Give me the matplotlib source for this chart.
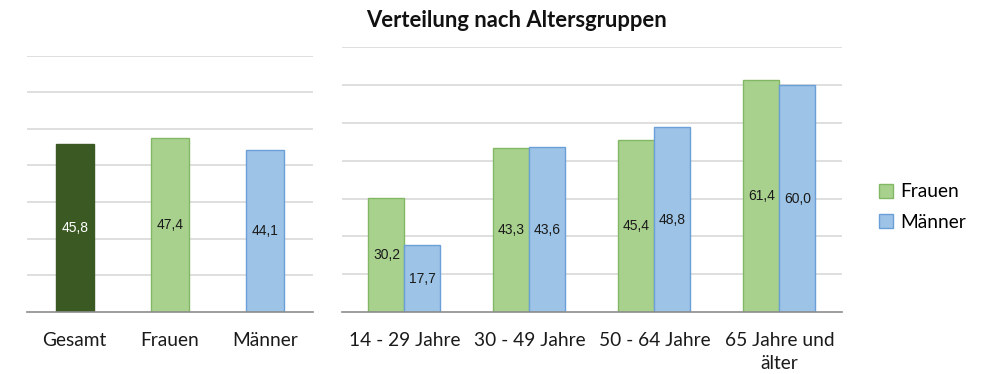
import matplotlib
matplotlib.use('Agg')
import matplotlib.pyplot as plt
import numpy as np

# Werte (Prozent)
gesamt_labels = ['Gesamt', 'Frauen', 'Männer']
gesamt_values = [45.8, 47.4, 44.1]

gruppen = ['14 - 29 Jahre', '30 - 49 Jahre', '50 - 64 Jahre', '65 Jahre und\nälter']
frauen = [30.2, 43.3, 45.4, 61.4]
maenner = [17.7, 43.6, 48.8, 60.0]

title = 'Verteilung nach Altersgruppen'

# Farben
dark_green = '#3b5a23'
light_green = '#a9d18e'
green_edge = '#82b865'
light_blue = '#9dc3e6'
blue_edge = '#6b9fd8'
grid_col = '#d9d9d9'
base_col = '#8c8c8c'

cat_font = 'Lato'
num_font = 'Liberation Sans'
cat_size = 13.8

fig = plt.figure(figsize=(9.85, 3.74), dpi=100)


def style_axis(ax):
    ax.set_ylim(0, 70)
    ax.set_yticks(np.arange(10, 71, 10))
    ax.yaxis.grid(True, color=grid_col, linewidth=1.2)
    ax.set_axisbelow(True)
    for s in ['top', 'right', 'left']:
        ax.spines[s].set_visible(False)
    ax.spines['bottom'].set_color(base_col)
    ax.spines['bottom'].set_linewidth(1.2)
    ax.tick_params(axis='y', left=False, labelleft=False)
    ax.tick_params(axis='x', bottom=False, pad=11)
    for lbl in ax.get_xticklabels():
        lbl.set_fontfamily(cat_font)
        lbl.set_fontsize(cat_size)
        lbl.set_color('#1a1a1a')


# linkes Diagramm: Gesamt / Frauen / Männer
ax1 = fig.add_axes([0.0274, 0.1666, 0.2904, 0.6844])
x1 = np.arange(len(gesamt_labels))
cols1 = [dark_green, light_green, light_blue]
edges1 = [dark_green, green_edge, blue_edge]
bars1 = ax1.bar(x1, gesamt_values, width=0.4, color=cols1, edgecolor=edges1, linewidth=1)
ax1.set_xlim(-0.5, 2.5)
ax1.set_xticks(x1)
ax1.set_xticklabels(gesamt_labels)
style_axis(ax1)
for b, v, tc in zip(bars1, gesamt_values, ['white', '#1a1a1a', '#1a1a1a']):
    ax1.text(b.get_x() + b.get_width() / 2, v / 2, f'{v:.1f}'.replace('.', ','),
             ha='center', va='center', fontsize=10, family=num_font, color=tc)

# rechtes Diagramm: Altersgruppen
ax2 = fig.add_axes([0.3472, 0.1658, 0.5076, 0.7077])
x2 = np.arange(len(gruppen))
w = 0.288
b_f = ax2.bar(x2 - w / 2, frauen, width=w, color=light_green, edgecolor=green_edge,
              linewidth=1, label='Frauen')
b_m = ax2.bar(x2 + w / 2, maenner, width=w, color=light_blue, edgecolor=blue_edge,
              linewidth=1, label='Männer')
ax2.set_xlim(-0.5, 3.5)
ax2.set_xticks(x2)
ax2.set_xticklabels(gruppen, linespacing=1.4, va='top')
style_axis(ax2)
for bars, vals in [(b_f, frauen), (b_m, maenner)]:
    for b, v in zip(bars, vals):
        ax2.text(b.get_x() + b.get_width() / 2, v / 2, f'{v:.1f}'.replace('.', ','),
                 ha='center', va='center', fontsize=10, family=num_font, color='#1a1a1a')

leg = fig.legend(handles=[b_f, b_m], loc='center left', bbox_to_anchor=(0.892, 0.446),
                 frameon=False, handlelength=0.75, handleheight=0.75, handletextpad=0.4,
                 labelspacing=0.7, borderpad=0, borderaxespad=0,
                 prop={'family': cat_font, 'size': cat_size})

fig.text(0.524, 0.945, title, ha='center', va='center', fontsize=15.8,
         fontweight='bold', family=cat_font, color='#111111')

fig.savefig('out.png', dpi=100)
